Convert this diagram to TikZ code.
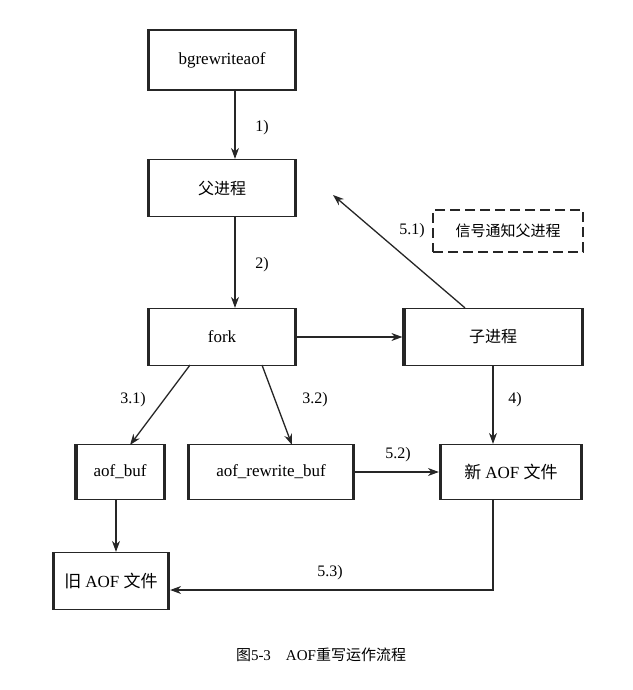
\documentclass[tikz,border=0pt]{standalone}
\usepackage{fontspec}
\setmainfont{Liberation Serif}
\newfontfamily\cjk{Noto Sans CJK SC}
\usetikzlibrary{arrows.meta}
\begin{document}
\begin{tikzpicture}[x=1pt,y=-1pt,
 box/.style={draw=black!85,line width=1.2pt,inner sep=0pt,font=\fontsize{17}{20}\selectfont,
  path picture={\draw[line width=5pt,black!85] (path picture bounding box.north west)--(path picture bounding box.south west) (path picture bounding box.north east)--(path picture bounding box.south east);}},
 dbox/.style={draw=black!85,line width=2pt,dash pattern=on 10pt off 5pt,inner sep=0pt,font=\cjk\fontsize{15}{18}\selectfont},
 arr/.style={-{Stealth[length=11pt,width=8pt]},line width=1.3pt,black!85},
 lab/.style={font=\fontsize{16}{18}\selectfont}]
\useasboundingbox (0,0) rectangle (632,690);
\node[box,minimum width=149pt,minimum height=60pt] (bg) at (222,60) {bgrewriteaof};
\node[box,minimum width=149pt,minimum height=57pt,font=\cjk\fontsize{16}{18}\selectfont] (fu) at (222,188) {父进程};
\node[box,minimum width=149pt,minimum height=57pt] (fork) at (222,337) {fork};
\node[box,minimum width=180pt,minimum height=57pt,font=\cjk\fontsize{16}{18}\selectfont] (zi) at (493,337) {子进程};
\node[dbox,minimum width=150pt,minimum height=42pt] (sig) at (508,231) {信号通知父进程};
\node[box,minimum width=90pt,minimum height=55pt] (ab) at (120,472) {aof\_buf};
\node[box,minimum width=167pt,minimum height=55pt] (arb) at (271,472) {aof\_rewrite\_buf};
\node[box,minimum width=143pt,minimum height=55pt] (new) at (511,472) {\cjk 新 \rmfamily AOF \cjk 文件};
\node[box,minimum width=117pt,minimum height=57pt] (old) at (111,581) {\cjk 旧 \rmfamily AOF \cjk 文件};
\coordinate (c1) at (493,590);
\draw[arr] (bg.south -| 235,0) -- (fu.north -| 235,0);
\node[lab] (l1) at (262,128) {1)};
\draw[arr] (fu.south -| 235,0) -- (fork.north -| 235,0);
\node[lab] (l2) at (262,265) {2)};
\draw[arr] (fork) -- (zi);
\draw[arr] (zi.north -| 465,0) -- (333,195);
\node[lab] (l51) at (412,231) {5.1)};
\draw[arr] (190,365) -- (130,445);
\node[lab] (l31) at (133,400) {3.1)};
\draw[arr] (262,365) -- (292,445);
\node[lab] (l32) at (315,400) {3.2)};
\draw[arr] (zi.south) -- (new.north -| zi.south);
\node[lab] (l4) at (515,400) {4)};
\draw[arr] (arb) -- (new);
\node[lab] (l52) at (398,455) {5.2)};
\draw[arr] (ab.south -| 116,0) -- (old.north -| 116,0);
\draw[arr] (new.south -| c1) -- (c1) -- (c1 -| old.east);
\node[lab] (l53) at (330,573) {5.3)};
\node[font=\fontsize{15}{18}\selectfont] (cap) at (321,655) {{\cjk 图}5-3\quad AOF{\cjk 重写运作流程}};
\end{tikzpicture}
\end{document}
